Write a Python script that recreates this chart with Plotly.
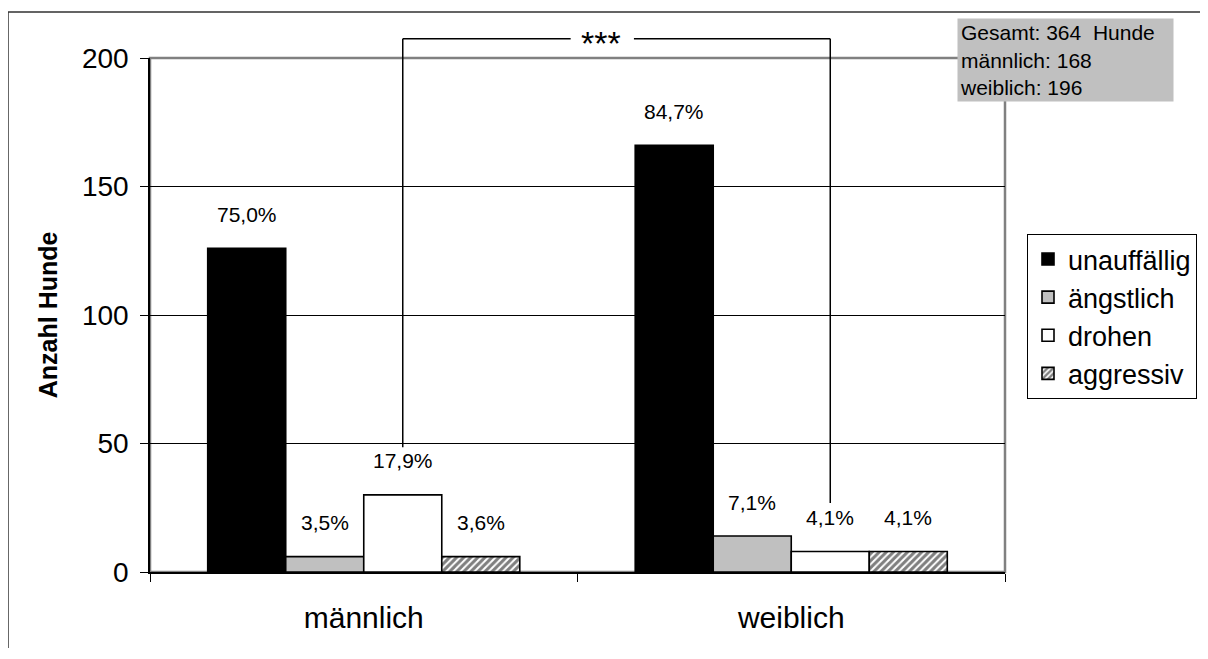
import plotly.graph_objects as go

categories = ["männlich", "weiblich"]
series_names = ["unauffällig", "ängstlich", "drohen", "aggressiv"]
unauffaellig = [126, 166]
aengstlich = [6, 14]
drohen = [30, 8]
aggressiv = [6, 8]
pct_unauffaellig = ["75,0%", "84,7%"]
pct_aengstlich = ["3,5%", "7,1%"]
pct_drohen = ["17,9%", "4,1%"]
pct_aggressiv = ["3,6%", "4,1%"]
y_ticks = [0, 50, 100, 150, 200]
info_lines = ["Gesamt: 364\u00a0\u00a0Hunde", "männlich: 168", "weiblich: 196"]
signif_text = "***"

values = [unauffaellig, aengstlich, drohen, aggressiv]
pcts = [pct_unauffaellig, pct_aengstlich, pct_drohen, pct_aggressiv]

FONT = "Liberation Sans, Arial, sans-serif"
BARGAP = 0.27
Y_MAX = 200
styles = [
    dict(color="black", pattern=None),
    dict(color="#c0c0c0", pattern=None),
    dict(color="white", pattern=None),
    dict(color="white", pattern=dict(shape="/", fgcolor="black", bgcolor="white", size=5, solidity=0.6)),
]

fig = go.Figure()
for name, vals, st, gi in zip(series_names, values, styles, range(4)):
    marker = dict(color=st["color"], line=dict(color="black", width=1.6))
    if st["pattern"]:
        marker["pattern"] = st["pattern"]
    fig.add_trace(go.Bar(x=categories, y=vals, name=name, marker=marker,
                         legendgroup=f"g{gi}"))

n = len(series_names)
ncat = len(categories)
bw = (1 - BARGAP) / n


def bar_center(i, j):
    return i - (1 - BARGAP) / 2 + (j + 0.5) * bw


def to_px(xcat):  # category coordinate -> paper fraction
    return (xcat + 0.5) / ncat


annotations = []
for j in range(n):
    for i in range(ncat):
        annotations.append(dict(x=bar_center(i, j), y=values[j][i], xref="x", yref="y",
                                text=pcts[j][i], showarrow=False, yshift=34,
                                font=dict(family=FONT, size=21, color="black")))

# significance bracket between the "drohen" bars
xl, xr = to_px(bar_center(0, 2)), to_px(bar_center(1, 2))
y_top = 207.5 / Y_MAX
star_x = 0.529
gap = 0.037
line = dict(color="black", width=1.5)
shapes = [
    dict(type="line", xref="paper", yref="paper", x0=xl, x1=xl, y0=48.5 / Y_MAX, y1=y_top, line=line, layer="above"),
    dict(type="line", xref="paper", yref="paper", x0=xl, x1=star_x - gap, y0=y_top, y1=y_top, line=line, layer="above"),
    dict(type="line", xref="paper", yref="paper", x0=star_x + gap, x1=xr, y0=y_top, y1=y_top, line=line, layer="above"),
    dict(type="line", xref="paper", yref="paper", x0=xr, x1=xr, y0=26.8 / Y_MAX, y1=y_top, line=line, layer="above"),
    # plot-area border (gray)
    dict(type="rect", xref="paper", yref="paper", x0=0, x1=1, y0=0, y1=1,
         line=dict(color="#808080", width=2.5), layer="between"),
    # outer chart border (left & top)
    dict(type="line", xref="paper", yref="paper", x0=-0.1661, x1=-0.1661, y0=-0.148, y1=1.0895,
         line=dict(color="#303030", width=1.5)),
    dict(type="line", xref="paper", yref="paper", x0=-0.1661, x1=1.25, y0=1.0895, y1=1.0895,
         line=dict(color="#303030", width=1.5)),
]
annotations.append(dict(x=star_x - 0.002, y=y_top, xref="paper", yref="paper", text=signif_text, showarrow=False,
                        xanchor="center", yanchor="middle", yshift=-4,
                        font=dict(family=FONT, size=34, color="black")))
annotations.append(dict(x=0.944, y=1.078, xref="paper", yref="paper", xanchor="left", yanchor="top",
                        text="<br>".join(info_lines), showarrow=False, align="left",
                        bgcolor="#c0c0c0", borderpad=2, width=211, height=78,
                        font=dict(family=FONT, size=21, color="black")))
annotations.append(dict(x=-0.119, y=0.5, xref="paper", yref="paper", text="<b>Anzahl Hunde</b>",
                        textangle=-90, showarrow=False, xanchor="center", yanchor="middle",
                        font=dict(family=FONT, size=25, color="black")))

# page body has an 8px margin, so figure is drawn 8px smaller and shifted
fig.update_layout(
    width=1200, height=651,
    margin=dict(l=142, r=203, t=50, b=87, autoexpand=False),
    paper_bgcolor="white", plot_bgcolor="white",
    barmode="group", bargap=BARGAP, bargroupgap=0,
    font=dict(family=FONT, color="black"),
    shapes=shapes, annotations=annotations,
    showlegend=True,
    legend=dict(xref="container", yref="container", x=1019 / 1200, y=(651 - 226) / 651,
                xanchor="left", yanchor="top",
                bordercolor="black", borderwidth=1, bgcolor="white",
                font=dict(family=FONT, size=27, color="black"),
                itemwidth=30, tracegroupgap=1, traceorder="normal"),
)
fig.update_xaxes(type="category", showline=True, linecolor="black", linewidth=1.5,
                 ticks="outside", ticklen=8, tickcolor="black", tickson="boundaries",
                 ticklabelstandoff=18, showgrid=False,
                 tickfont=dict(family=FONT, size=30, color="black"))
fig.update_yaxes(range=[0, Y_MAX], tickvals=y_ticks, showline=True, linecolor="black", linewidth=1.5,
                 ticks="outside", ticklen=8, tickcolor="black", ticklabelstandoff=6,
                 showgrid=True, gridcolor="black", gridwidth=1, zeroline=False,
                 tickfont=dict(family=FONT, size=28, color="black"))

fig.write_html("out.html")
